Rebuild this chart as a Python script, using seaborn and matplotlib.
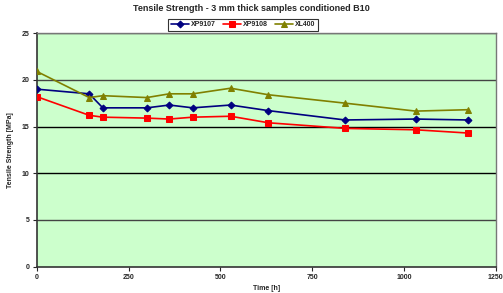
import pandas as pd
import matplotlib
matplotlib.use("Agg")
import matplotlib.pyplot as plt
import seaborn as sns

# Data
time_h = [0, 143, 180, 300, 361, 425, 528, 631, 840, 1032, 1175]
xp9107 = [19.0, 18.5, 17.0, 17.0, 17.3, 17.0, 17.3, 16.7, 15.7, 15.8, 15.7]
xp9108 = [18.2, 16.2, 16.0, 15.9, 15.8, 16.0, 16.1, 15.4, 14.8, 14.65, 14.3]
xl400 = [20.9, 18.1, 18.3, 18.1, 18.5, 18.5, 19.1, 18.4, 17.5, 16.65, 16.8]

series_names = ["XP9107", "XP9108", "XL400"]
x_ticks = [0, 250, 500, 750, 1000, 1250]
y_ticks = [0, 5, 10, 15, 20, 25]

df = pd.DataFrame({"Time": time_h, "XP9107": xp9107, "XP9108": xp9108, "XL400": xl400})
long_df = df.melt(id_vars="Time", var_name="Sample", value_name="Strength")

sns.set_theme(style="white")
plt.rcParams["font.family"] = ["Liberation Sans", "DejaVu Sans"]
plt.rcParams["font.weight"] = "bold"

fig = plt.figure(figsize=(5.03, 2.93), dpi=100)
ax = fig.add_axes([0.073, 0.09, 0.9125, 0.797])
ax.set_facecolor("#CCFFCC")

palette = {"XP9107": "#000080", "XP9108": "#FF0000", "XL400": "#808000"}
markers = {"XP9107": "D", "XP9108": "s", "XL400": "^"}
sizes = {"XP9107": 3.5, "XP9108": 5, "XL400": 5}

for name in series_names:
    sub = long_df[long_df["Sample"] == name]
    sns.lineplot(data=sub, x="Time", y="Strength", ax=ax, color=palette[name],
                 marker=markers[name], markersize=sizes[name], markeredgecolor=palette[name],
                 linewidth=1.2, label=name, zorder=3)

for yv in y_ticks[1:]:
    ax.axhline(yv, color="#444444" if yv in (5, 20, 25) else "black", linewidth=1.0, zorder=1)

ax.set_xlim(0, 1250)
ax.set_ylim(0, 25)
ax.set_xticks(x_ticks)
ax.set_yticks(y_ticks)
ax.tick_params(axis="both", labelsize=5, length=3, width=0.8, direction="out",
               bottom=True, left=True, pad=2)
for lab in ax.get_xticklabels() + ax.get_yticklabels():
    lab.set_fontweight("bold")

for side in ["left", "bottom"]:
    ax.spines[side].set_color("#333333")
    ax.spines[side].set_linewidth(1.2)
for side in ["right", "top"]:
    ax.spines[side].set_color("#777777")
    ax.spines[side].set_linewidth(1.0)

ax.set_xlabel("Time [h]", fontsize=5, fontweight="bold", labelpad=3)
ax.set_ylabel("Tensile Strength [MPa]", fontsize=5, fontweight="bold", labelpad=6)
fig.suptitle("Tensile Strength - 3 mm thick samples conditioned B10", fontsize=6.5,
             fontweight="bold", y=0.985)

leg = ax.legend(loc="upper center", bbox_to_anchor=(243 / 503, 1 - 19 / 293),
                bbox_transform=fig.transFigure, ncol=3, fontsize=5,
                frameon=True, fancybox=False, edgecolor="black", handlelength=2.6,
                columnspacing=1.0, handletextpad=0.3, borderpad=0.35, borderaxespad=0)
leg.get_frame().set_linewidth(0.8)
for t in leg.get_texts():
    t.set_fontweight("bold")

fig.savefig("out.png", dpi=100)
